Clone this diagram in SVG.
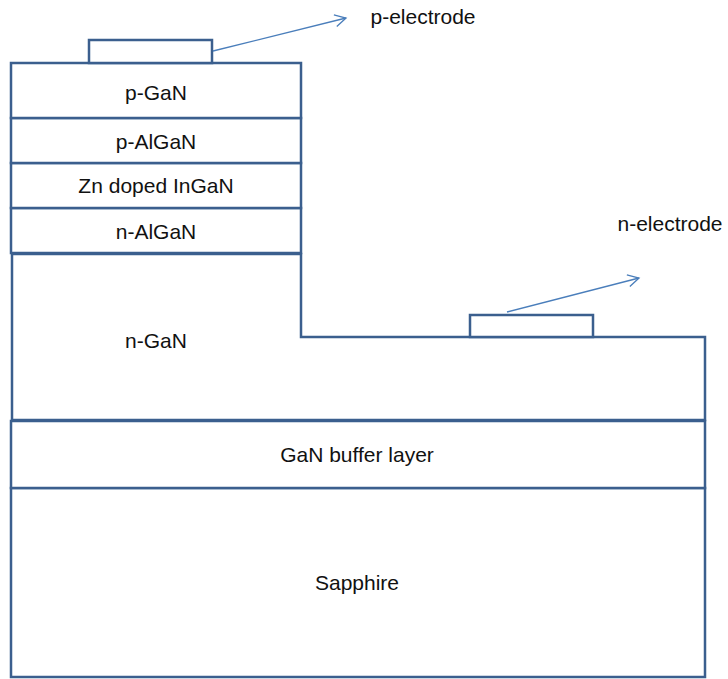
<svg xmlns="http://www.w3.org/2000/svg" width="728" height="679" viewBox="0 0 728 679">
<defs>
<style>
.l{fill:#fff;stroke:#3b5f8e;stroke-width:2.5}
.t{font-family:"Liberation Sans",Arial,sans-serif;font-size:21px;fill:#111;text-anchor:middle}
.c{fill:none;stroke:#4a7ebb;stroke-width:1.3}
</style>
<marker id="ah" markerWidth="14" markerHeight="14" refX="12" refY="7" orient="auto" markerUnits="userSpaceOnUse">
<path d="M1,1 L12,7 L1,13" fill="none" stroke="#4a7ebb" stroke-width="1.3"/>
</marker>
</defs>
<rect width="728" height="679" fill="#fff"/>
<g id="sapphire"><rect class="l" x="11" y="488" width="694" height="189"/><text class="t" x="357" y="590">Sapphire</text></g>
<g id="buffer"><rect class="l" x="11" y="421" width="694" height="67"/><text class="t" x="357" y="462">GaN buffer layer</text></g>
<g id="n-GaN"><path class="l" d="M12,254 H301 V337 H705 V420 H12 Z"/><text class="t" x="156" y="348">n-GaN</text></g>
<g id="n-AlGaN"><rect class="l" x="11" y="208" width="290" height="45"/><text class="t" x="156" y="239">n-AlGaN</text></g>
<g id="InGaN"><rect class="l" x="11" y="163" width="290" height="45"/><text class="t" x="156" y="193">Zn doped InGaN</text></g>
<g id="p-AlGaN"><rect class="l" x="11" y="118" width="290" height="45"/><text class="t" x="156" y="149">p-AlGaN</text></g>
<g id="p-GaN"><rect class="l" x="11" y="63" width="290" height="55"/><text class="t" x="156" y="100">p-GaN</text></g>
<g id="p-electrode"><rect class="l" x="89" y="40" width="123" height="23"/><text class="t" x="423" y="24">p-electrode</text></g>
<g id="n-electrode"><rect class="l" x="470" y="315" width="123" height="22"/><text class="t" x="670" y="231">n-electrode</text></g>
<g id="connectors">
<path class="c" d="M213,51 L346,18" marker-end="url(#ah)"/>
<path class="c" d="M507,312 L639,278" marker-end="url(#ah)"/>
</g>
</svg>
